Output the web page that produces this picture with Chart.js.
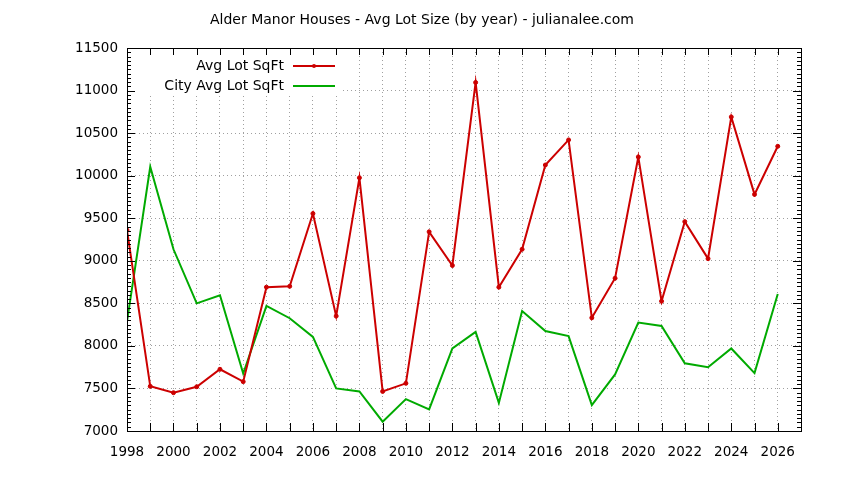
<!DOCTYPE html>
<html>
<head>
<meta charset="utf-8">
<script src="https://cdn.jsdelivr.net/npm/chart.js@4"></script>
<style>
  html, body { margin: 0; padding: 0; background: #fff; }
  canvas { display: block; }
</style>
</head>
<body>
<canvas id="lotChart" width="844" height="480"></canvas>
<script>
// data
const years = [1998, 1999, 2000, 2001, 2002, 2003, 2004, 2005, 2006, 2007,
    2008, 2009, 2010, 2011, 2012, 2013, 2014, 2015, 2016, 2017,
    2018, 2019, 2020, 2021, 2022, 2023, 2024, 2025, 2026];

const avgLot = [9360, 7525, 7450, 7520, 7725, 7580, 8690, 8700, 9555, 8350,
    9975, 7465, 7560, 9340, 8945, 11095, 8690, 9135, 10125, 10420,
    8330, 8795, 10220, 8525, 9460, 9025, 10690, 9780, 10345];

const cityAvgLot = [8285, 10105, 9135, 8500, 8595, 7675, 8470, 8325, 8105, 7500,
    7465, 7110, 7375, 7255, 7970, 8165, 7330, 8410, 8175, 8115,
    7305, 7665, 8275, 8235, 7795, 7750, 7970, 7680, 8610];

const yTicks = [7000, 7500, 8000, 8500, 9000, 9500, 10000, 10500, 11000, 11500];

const FONT = 'DejaVu Sans';
const RED = '#cc0000';
const GREEN = '#00aa00';

// gnuplot style frame, inward ticks, legend and title
const gnuplotFrame = {
    id: 'gnuplotFrame',
    afterDraw(chart) {
        const ctx = chart.ctx;
        const area = chart.chartArea;
        const xs = chart.scales.x;
        const ys = chart.scales.y;
        ctx.save();

        // legend box hides the grid
        ctx.fillStyle = '#fff';
        ctx.fillRect(area.left + 1, area.top + 1, 215, 47);

        ctx.font = '14px "' + FONT + '"';
        ctx.fillStyle = '#000';
        ctx.textAlign = 'right';
        ctx.textBaseline = 'middle';
        ctx.fillText('Avg Lot SqFt', 284, 66);
        ctx.fillText('City Avg Lot SqFt', 284, 86);

        ctx.lineWidth = 2;
        ctx.strokeStyle = RED;
        ctx.beginPath();
        ctx.moveTo(293, 66);
        ctx.lineTo(335, 66);
        ctx.stroke();
        ctx.fillStyle = RED;
        ctx.beginPath();
        ctx.arc(314, 66, 2, 0, Math.PI * 2);
        ctx.fill();
        ctx.strokeStyle = GREEN;
        ctx.beginPath();
        ctx.moveTo(293, 86);
        ctx.lineTo(335, 86);
        ctx.stroke();

        // frame
        ctx.strokeStyle = '#000';
        ctx.lineWidth = 1;
        ctx.strokeRect(area.left + 0.5, area.top + 0.5, area.right - area.left, area.bottom - area.top);

        ctx.beginPath();
        // x ticks, every year, top and bottom
        for (let yr = 1998; yr <= 2027; yr++) {
            const px = Math.round(xs.getPixelForValue(yr)) + 0.5;
            ctx.moveTo(px, area.bottom);
            ctx.lineTo(px, area.bottom - 8);
            ctx.moveTo(px, area.top);
            ctx.lineTo(px, area.top + 7);
        }
        // y ticks, major 500 and minor 50, left and right
        for (let v = 7000; v <= 11500; v += 50) {
            const py = Math.round(ys.getPixelForValue(v)) + 0.5;
            const len = v % 500 === 0 ? 8 : 4;
            ctx.moveTo(area.left, py);
            ctx.lineTo(area.left + len, py);
            ctx.moveTo(area.right, py);
            ctx.lineTo(area.right - len, py);
        }
        ctx.stroke();

        // title
        ctx.fillStyle = '#000';
        ctx.textAlign = 'center';
        ctx.textBaseline = 'middle';
        ctx.fillText('Alder Manor Houses - Avg Lot Size (by year) - julianalee.com', 422, 20);
        ctx.restore();
    }
};

const ctx = document.getElementById('lotChart').getContext('2d');
const lotChart = new Chart(ctx, {
    type: 'line',
    data: {
        datasets: [
            {
                label: 'Avg Lot SqFt',
                data: years.map((yr, i) => ({x: yr, y: avgLot[i]})),
                borderColor: RED,
                backgroundColor: RED,
                borderWidth: 2,
                pointRadius: 2,
                pointBorderWidth: 1,
                tension: 0,
            },
            {
                label: 'City Avg Lot SqFt',
                data: years.map((yr, i) => ({x: yr, y: cityAvgLot[i]})),
                borderColor: GREEN,
                backgroundColor: GREEN,
                borderWidth: 2,
                pointRadius: 0,
                tension: 0,
            }
        ]
    },
    options: {
        responsive: false,
        animation: false,
        layout: {
            padding: {top: 48, right: 43, left: 0, bottom: 0}
        },
        plugins: {
            legend: {display: false},
            title: {display: false},
            tooltip: {enabled: false}
        },
        scales: {
            x: {
                type: 'linear',
                min: 1998,
                max: 2027,
                afterFit: (scale) => { scale.height = 49; },
                ticks: {
                    stepSize: 1,
                    autoSkip: false,
                    maxRotation: 0,
                    padding: 13,
                    color: '#000',
                    font: {family: FONT, size: 13.5},
                    callback: (v) => (v % 2 === 0 && v <= 2026) ? String(v) : ''
                },
                grid: {
                    color: '#a0a0a0',
                    lineWidth: 1,
                    drawTicks: false
                },
                border: {display: false, dash: [1, 3]}
            },
            y: {
                min: 7000,
                max: 11500,
                afterFit: (scale) => { scale.width = 127; },
                afterBuildTicks: (scale) => { scale.ticks = yTicks.map(v => ({value: v})); },
                ticks: {
                    padding: 9,
                    color: '#000',
                    font: {family: FONT, size: 13.5},
                    callback: (v) => String(v)
                },
                grid: {
                    color: '#a0a0a0',
                    lineWidth: 1,
                    drawTicks: false
                },
                border: {display: false, dash: [1, 3]}
            }
        }
    },
    plugins: [gnuplotFrame]
});
</script>
</body>
</html>
